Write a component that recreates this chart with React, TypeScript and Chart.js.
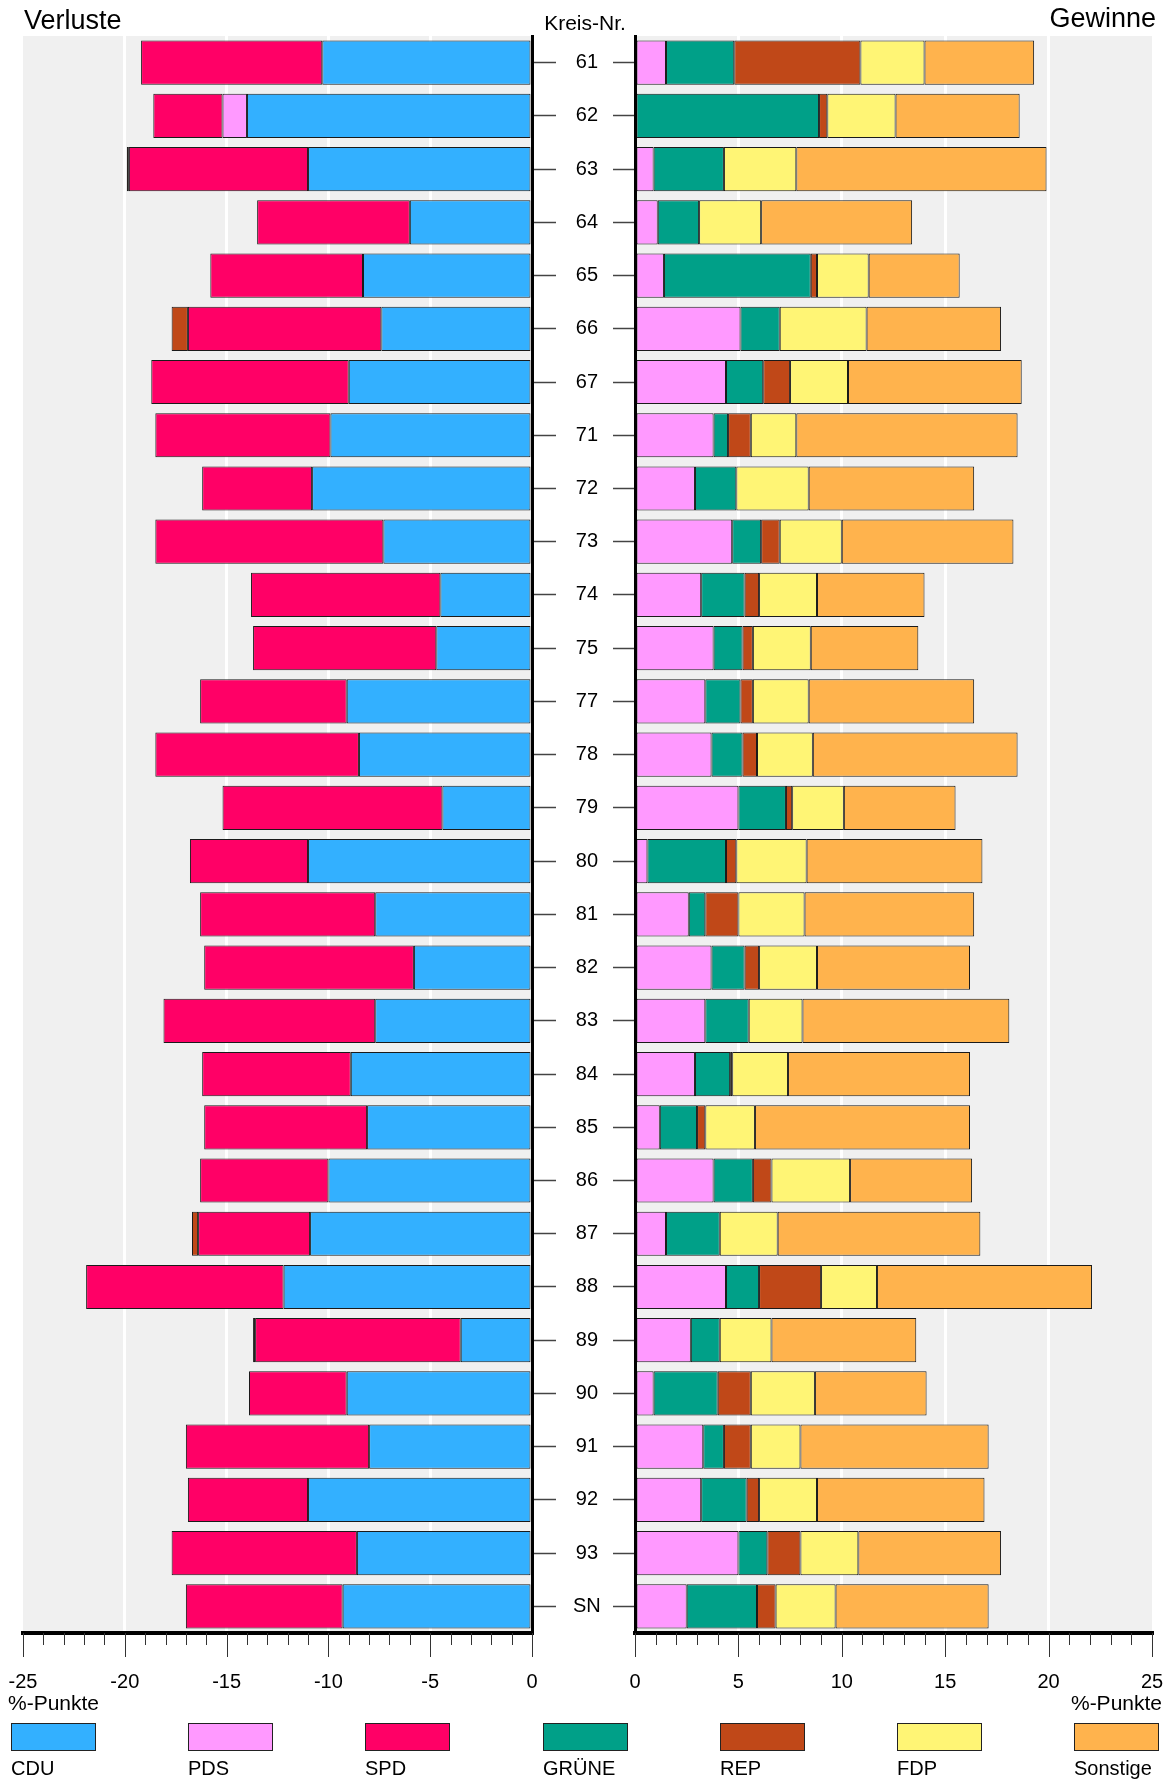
import React, { useEffect, useRef } from "react";
import { Chart, registerables } from "chart.js";

Chart.register(...registerables);

// ---------- data ----------
const kreise = ["61","62","63","64","65","66","67","71","72","73","74","75","77","78","79","80","81","82","83","84","85","86","87","88","89","90","91","92","93","SN"];

const cdu = [-10.3,-14.0,-11.0,-6.0,-8.3,-7.4,-9.0,-9.9,-10.8,-7.3,-4.5,-4.7,-9.1,-8.5,-4.4,-11.0,-7.7,-5.8,-7.7,-8.9,-8.1,-10.0,-10.9,-12.2,-3.5,-9.1,-8.0,-11.0,-8.6,-9.3];
const pds = [1.5,-1.2,0.9,1.1,1.4,5.1,4.4,3.8,2.9,4.7,3.2,3.8,3.4,3.7,5.0,0.6,2.6,3.7,3.4,2.9,1.2,3.8,1.5,4.4,2.7,0.9,3.3,3.2,5.0,2.5];
const spd = [-8.9,-3.4,-8.8,-7.5,-7.5,-9.5,-9.7,-8.6,-5.4,-11.2,-9.3,-9.0,-7.2,-10.0,-10.8,-5.8,-8.6,-10.3,-10.4,-7.3,-8.0,-6.3,-5.5,-9.7,-10.1,-4.8,-9.0,-5.9,-9.1,-7.7];
const gruene = [3.3,8.9,3.4,2.0,7.1,1.9,1.8,0.7,2.0,1.4,2.1,1.4,1.7,1.5,2.3,3.8,0.8,1.6,2.1,1.7,1.8,1.9,2.6,1.6,1.4,3.1,1.0,2.2,1.4,3.4];
const rep = [6.1,0.4,-0.1,0,0.3,-0.8,1.3,1.1,0,0.9,0.7,0.5,0.6,0.7,0.3,0.5,1.6,0.7,0,0.1,0.4,0.9,-0.3,3.0,-0.1,1.6,1.3,0.6,1.6,0.9];
const fdp = [3.1,3.3,3.5,3.0,2.5,4.2,2.8,2.2,3.5,3.0,2.8,2.8,2.7,2.7,2.5,3.4,3.2,2.8,2.6,2.7,2.4,3.8,2.8,2.7,2.5,3.1,2.4,2.8,2.8,2.9];
const sonstige = [5.3,6.0,12.1,7.3,4.4,6.5,8.4,10.7,8.0,8.3,5.2,5.2,8.0,9.9,5.4,8.5,8.2,7.4,10.0,8.8,10.4,5.9,9.8,10.4,7.0,5.4,9.1,8.1,6.9,7.4];

const parties = ["CDU", "PDS", "SPD", "GRÜNE", "REP", "FDP", "Sonstige"];
const partyColors = ["#33b0ff", "#ff99ff", "#ff0066", "#00a088", "#c04818", "#fff575", "#ffb34d"];
const partyValues = [cdu, pds, spd, gruene, rep, fdp, sonstige];

const titleLeft = "Verluste";
const titleRight = "Gewinne";
const axisTitleMiddle = "Kreis-Nr.";
const unitLabel = "%-Punkte";

// ---------- styling ----------
const FONT = "'Liberation Sans', Arial, Helvetica, sans-serif";
const PAGE_W = 1173;
const PAGE_H = 1780;
const PLOT_TOP = 36;
const PLOT_BOTTOM = 1633;
const AXIS_H = PAGE_H - PLOT_BOTTOM;
const LEFT_W = 640;
const LEFT_AREA_LEFT = 23;
const LEFT_AREA_RIGHT = 532;
const RIGHT_X = 600;
const RIGHT_W = PAGE_W - RIGHT_X;
const RIGHT_AREA_LEFT = 635;
const RIGHT_AREA_RIGHT = 1152;
const RIGHT_TICK = 22;

Chart.defaults.font.family = FONT;
Chart.defaults.color = "#000";

const backgroundPlugin = {
  id: "plotBackground",
  beforeDraw(chart: any) {
    const { ctx, chartArea } = chart;
    ctx.save();
    ctx.fillStyle = "#f0f0f0";
    ctx.fillRect(chartArea.left, chartArea.top, chartArea.right - chartArea.left, chartArea.bottom - chartArea.top);
    ctx.restore();
  },
};

const xTickMarksPlugin = {
  id: "xTickMarks",
  afterDraw(chart: any) {
    const { ctx, chartArea } = chart;
    const s = chart.scales.x;
    ctx.save();
    ctx.strokeStyle = "#333";
    ctx.lineWidth = 1;
    ctx.beginPath();
    for (const t of s.ticks) {
      const x = Math.round(s.getPixelForValue(t.value)) + 0.5;
      const len = t.value % 5 === 0 ? 24 : 12;
      ctx.moveTo(x, chartArea.bottom);
      ctx.lineTo(x, chartArea.bottom + len);
    }
    ctx.stroke();
    ctx.restore();
  },
};

type TextItem = { text: string; x: number; y: number; align: CanvasTextAlign; size: number };
const makeTextPlugin = (items: TextItem[]) => ({
  id: "extraText",
  afterDraw(chart: any) {
    const { ctx } = chart;
    ctx.save();
    ctx.fillStyle = "#000";
    ctx.textBaseline = "alphabetic";
    for (const it of items) {
      ctx.font = `${it.size}px ${FONT}`;
      ctx.textAlign = it.align;
      ctx.fillText(it.text, it.x, it.y);
    }
    ctx.restore();
  },
});

const gridColor = (ctx: any) => {
  const v = ctx.tick ? ctx.tick.value : NaN;
  if (v % 5 === 0 && v !== 0 && Math.abs(v) !== 25) return "#ffffff";
  return "rgba(0,0,0,0)";
};

function buildConfig(side: "left" | "right"): any {
  const isLeft = side === "left";
  const datasets = parties.map((p, i) => ({
    label: p,
    data: partyValues[i].map((v) => (isLeft ? (v < 0 ? v : null) : v > 0 ? v : null)),
    backgroundColor: partyColors[i],
    borderColor: "#1a1a1a",
    borderWidth: 1,
    borderSkipped: false,
    categoryPercentage: 1,
    barPercentage: 0.83,
  }));

  const texts: TextItem[] = isLeft
    ? [
        { text: titleLeft, x: 24, y: 29, align: "left", size: 27 },
        { text: axisTitleMiddle, x: 585, y: 30, align: "center", size: 21 },
        { text: unitLabel, x: 8, y: 1710, align: "left", size: 21 },
      ]
    : [
        { text: titleRight, x: 1156 - RIGHT_X, y: 27, align: "right", size: 27 },
        { text: unitLabel, x: 1162 - RIGHT_X, y: 1710, align: "right", size: 21 },
      ];

  return {
    type: "bar",
    data: { labels: kreise, datasets },
    options: {
      indexAxis: "y",
      responsive: false,
      animation: false,
      events: [],
      layout: {
        padding: isLeft
          ? { left: LEFT_AREA_LEFT, top: PLOT_TOP, right: 0, bottom: 0 }
          : {
              left: RIGHT_AREA_LEFT - RIGHT_X - RIGHT_TICK,
              top: PLOT_TOP,
              right: PAGE_W - RIGHT_AREA_RIGHT,
              bottom: 0,
            },
      },
      plugins: {
        legend: { display: false },
        tooltip: { enabled: false },
        title: { display: false },
      },
      scales: {
        x: {
          type: "linear",
          position: "bottom",
          min: isLeft ? -25 : 0,
          max: isLeft ? 0 : 25,
          stacked: true,
          ticks: {
            stepSize: 1,
            autoSkip: false,
            maxRotation: 0,
            padding: 37,
            font: { size: 20 },
            color: "#000",
            callback: (v: number) => (v % 5 === 0 ? String(v) : ""),
          },
          grid: { drawTicks: false, color: gridColor, lineWidth: 3 },
          border: { display: true, color: "#000", width: 4, z: 1 },
          afterFit: (s: any) => {
            s.height = AXIS_H;
            s.paddingLeft = 0;
            s.paddingRight = 0;
          },
        },
        y: {
          type: "category",
          position: isLeft ? "right" : "left",
          stacked: true,
          offset: true,
          grid: {
            offset: false,
            drawOnChartArea: false,
            drawTicks: true,
            tickLength: isLeft ? 24 : RIGHT_TICK,
            tickColor: "#444",
            tickWidth: 1.5,
          },
          border: { display: true, color: "#000", width: 3, z: 1 },
          ticks: {
            display: isLeft,
            autoSkip: false,
            crossAlign: "center",
            padding: 17,
            font: { size: 20 },
            color: "#000",
          },
          afterFit: (s: any) => {
            s.width = isLeft ? LEFT_W - LEFT_AREA_RIGHT : RIGHT_TICK;
            s.paddingTop = 0;
            s.paddingBottom = 0;
          },
        },
      },
    },
    plugins: [backgroundPlugin, xTickMarksPlugin, makeTextPlugin(texts)],
  };
}

function Legend() {
  return (
    <>
      {parties.map((p, i) => {
        const left = Math.round(11 + 177.2 * i);
        return (
          <React.Fragment key={p}>
            <div
              style={{
                position: "absolute",
                left,
                top: 1723,
                width: 85,
                height: 28,
                boxSizing: "border-box",
                border: "1px solid #222",
                background: partyColors[i],
              }}
            />
            <div
              style={{
                position: "absolute",
                left,
                top: 1758,
                fontFamily: FONT,
                fontSize: 20,
                lineHeight: "20px",
                color: "#000",
                whiteSpace: "nowrap",
              }}
            >
              {p}
            </div>
          </React.Fragment>
        );
      })}
    </>
  );
}

export default function App() {
  const leftRef = useRef<HTMLCanvasElement>(null);
  const rightRef = useRef<HTMLCanvasElement>(null);

  useEffect(() => {
    const l = new Chart(leftRef.current as HTMLCanvasElement, buildConfig("left"));
    const r = new Chart(rightRef.current as HTMLCanvasElement, buildConfig("right"));
    return () => {
      l.destroy();
      r.destroy();
    };
  }, []);

  return (
    <div
      style={{
        position: "absolute",
        left: 0,
        top: 0,
        width: PAGE_W,
        height: PAGE_H,
        background: "#fff",
        overflow: "hidden",
      }}
    >
      <canvas
        ref={leftRef}
        width={LEFT_W}
        height={PAGE_H}
        style={{ position: "absolute", left: 0, top: 0, width: LEFT_W, height: PAGE_H }}
      />
      <canvas
        ref={rightRef}
        width={RIGHT_W}
        height={PAGE_H}
        style={{ position: "absolute", left: RIGHT_X, top: 0, width: RIGHT_W, height: PAGE_H }}
      />
      <Legend />
    </div>
  );
}
